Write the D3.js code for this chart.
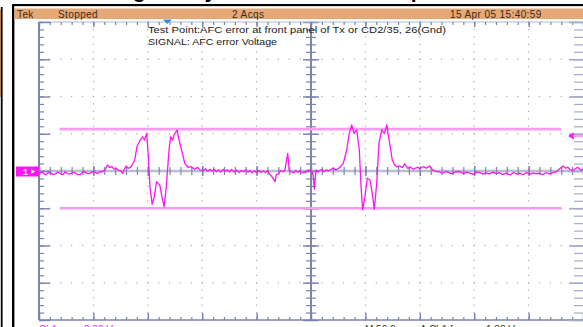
<!DOCTYPE html>
<html>
<head>
<meta charset="utf-8">
<script src="https://cdn.jsdelivr.net/npm/d3@7"></script>
<style>
  body { margin: 0; background: #fff; overflow: hidden; }
  svg { display: block; }
  text { font-family: 'Liberation Sans', Arial, sans-serif; }
</style>
</head>
<body>
<svg id="scope" width="583" height="327"></svg>
<script>
// texts on the screen
const titleText = 'Voltage analysis of AFC error output';
const headerLabels = ['Tek', 'Stopped', '2 Acqs', '15 Apr 05 15:40:59'];
const noteLines = ['Test Point:AFC error at front panel of Tx or CD2/35, 26(Gnd)', 'SIGNAL: AFC error Voltage'];
const footerLabels = ['Ch1', '2.00 V', 'M 50.0\u00b5s', 'A  Ch1  \u0283', '1.88 V'];

// scope settings (50us/div, 2V/div)
const timeDivs = d3.range(0, 501, 50);
const voltDivs = d3.range(-8, 9, 2);
const cursorVolts = [2.25, -2.0];
const cursorSpan = [19, 480];
const triggerLevel = 1.88;
const triggerTime = 118;

// trace: [time us, volts]
const trace = [
  [1, -0.12], [3, -0.05], [6, -0.21], [8, -0.10], [10, -0.09], [13, -0.18], [15, -0.16], [17, -0.06],
  [19, -0.12], [22, -0.20], [24, -0.04], [26, -0.14], [28, -0.16], [31, -0.08], [33, -0.09], [35, -0.19],
  [38, -0.18], [40, -0.07], [42, -0.05], [45, -0.15], [47, -0.12], [49, -0.03], [51, -0.05], [54, -0.13],
  [56, -0.02], [58, -0.06], [61, 0.09], [63, 0.32], [65, 0.18], [67, 0.23], [69, 0.10], [71, 0.14],
  [73, 0.05], [75, 0.02], [77, -0.12], [78, 0.05], [80, 0.27], [82, 0.14], [84, 0.20], [85, 0.27],
  [88, 0.59], [90, 1.30], [93, 1.66], [95, 1.84], [97, 1.66], [99, 2.02], [100.5, 0.77], [102, -0.84],
  [104, -1.79], [106, -1.38], [108, -0.57], [111, -0.75], [113, -1.38], [115, -1.92], [117, -0.84], [119.5, 1.13],
  [121, 1.84], [123, 1.66], [124, 1.93], [127, 2.20], [128, 1.84], [131, 1.13], [134, 0.41], [137, 0.20],
  [140, 0.23], [143, 0.09], [146, 0.20], [148, 0.05], [151, 0.02], [153, 0.12], [155, -0.02], [157, 0.09],
  [159, 0.00], [161, 0.10], [163, -0.04], [165, 0.06], [167, -0.06], [169, 0.09], [171, -0.02], [173, 0.07],
  [175, -0.04], [177, 0.08], [179, -0.05], [182, 0.05], [184, -0.08], [186, 0.03], [188, -0.04], [190, 0.06],
  [192, -0.06], [194, 0.02], [196, -0.10], [198, 0.01], [200, -0.09], [202, 0.03], [204, -0.06], [206, 0.00],
  [208, -0.08], [210, 0.02], [212, -0.16], [214, -0.30], [217, -0.57], [218, -0.20], [220, -0.16], [222, 0.02],
  [224.5, -0.04], [226, 0.05], [228.6, 0.95], [230, 0.02], [232, -0.05], [234, -0.09], [236, 0.03], [238, -0.07],
  [240, 0.02], [242, -0.10], [244.5, -0.09], [247, 0.04], [249, 0.05], [251, -0.06], [252, -0.21], [253, -0.97],
  [254.6, 0.05], [257, -0.03], [260, 0.09], [262, -0.04], [264, 0.06], [266, 0.00], [268, 0.08], [270.5, 0.14],
  [273, 0.05], [276.7, 0.20], [279.7, 0.41], [282.8, 1.13], [285.2, 2.02], [287.4, 2.47], [289.5, 2.02], [292, 2.20],
  [294.4, 1.13], [296, -0.84], [297.5, -2.09], [299.6, -1.38], [301.7, -0.39], [304.2, -0.48], [306.3, -1.20], [308.2, -2.06],
  [310.4, -0.66], [312.5, 1.49], [315, 2.20], [317.4, 2.02], [319.6, 2.47], [322.3, 1.49], [324.7, 0.59], [326.9, 0.32],
  [329, 0.22], [331.5, 0.27], [334, 0.18], [336, 0.38], [339, 0.14], [341, 0.22], [344, 0.09], [346, 0.16],
  [348, 0.20], [350, 0.12], [353, 0.23], [356, 0.15], [359, 0.27], [362, 0.05], [365, -0.02], [368, -0.04],
  [371, -0.12], [374, -0.02], [377, -0.09], [380, -0.15], [383, -0.03], [387, -0.04], [390, -0.14], [393, -0.06],
  [396, -0.12], [399, -0.18], [402, -0.06], [405, -0.07], [408, -0.17], [411, -0.10], [414, -0.16], [417, -0.05],
  [420, -0.14], [423, -0.09], [426, -0.19], [429, -0.11], [433, -0.21], [436, -0.08], [439, -0.15], [442, -0.12],
  [445, -0.20], [448, -0.08], [451, -0.18], [454, -0.10], [457, -0.15], [460, -0.12], [463, -0.20], [466, -0.09],
  [469, -0.16], [472, -0.10], [475.5, -0.04], [478, 0.10], [481.6, 0.27], [484, 0.15], [486, 0.20], [488, 0.08],
  [491, 0.02], [493, 0.12], [495, 0.20], [498, 0.05], [500, 0.09]
];

const GRID = '#7c83ad';
const DOT = '#a3a8c6';
const PINK = '#ff14f5';

const svg = d3.select('#scope');

const x = d3.scaleLinear().domain([0, 500]).range([39, 583]);
const y = d3.scaleLinear().domain([-8, 8]).range([320, 22]);

const minorT = d3.range(0, 51).map(i => i * 10);
const minorV = d3.range(-20, 21).map(i => i * 0.4);

// document title, mostly cut off at the top
const title = svg.append('text')
  .attr('y', -2)
  .attr('font-family', "'Liberation Serif', 'Times New Roman', serif")
  .attr('font-weight', 'bold')
  .attr('font-size', 21)
  .attr('fill', '#000')
  .text(titleText);
let gPos = title.node().getStartPositionOfChar(titleText.indexOf('g')).x;
const pPos = title.node().getStartPositionOfChar(titleText.lastIndexOf('p')).x;
title.attr('font-size', 21 * 278 / (pPos - gPos));
gPos = title.node().getStartPositionOfChar(titleText.indexOf('g')).x;
title.attr('x', 133 - gPos);

// frame of the pasted screenshot
svg.append('rect').attr('x', 0).attr('y', 10).attr('width', 1).attr('height', 87).attr('fill', '#e2a06c');
svg.append('rect').attr('x', 0.8).attr('y', 7).attr('width', 1.8).attr('height', 320).attr('fill', '#000');
svg.append('rect').attr('x', 12).attr('y', 4).attr('width', 2.4).attr('height', 323).attr('fill', '#000');
svg.append('rect').attr('x', 12).attr('y', 4).attr('width', 571).attr('height', 2.4).attr('fill', '#000');
svg.append('rect').attr('x', 14.4).attr('y', 6.4).attr('width', 569).attr('height', 2.1).attr('fill', '#fff');

// status bar
svg.append('rect').attr('x', 14.4).attr('y', 8.5).attr('width', 569).attr('height', 10.5).attr('fill', '#e6a874');
const headerX = [17, 58, 232, 450];
svg.selectAll('.hdr')
  .data(headerLabels)
  .enter().append('text')
  .attr('class', 'hdr')
  .attr('x', (d, i) => headerX[i])
  .attr('y', 17.6)
  .attr('font-size', 10)
  .attr('letter-spacing', 0.4)
  .attr('fill', '#3e2a1c')
  .text(d => d);

// dotted graticule
const innerT = timeDivs.filter(t => t > 0 && t < 500 && t !== 250);
const innerV = voltDivs.filter(v => v > -8 && v < 8 && v !== 0);
const dots = [];
innerT.forEach(t => minorV.forEach(v => dots.push([t, v])));
innerV.forEach(v => minorT.forEach(t => dots.push([t, v])));
svg.append('g').selectAll('rect')
  .data(dots)
  .enter().append('rect')
  .attr('x', d => x(d[0]) - 0.6)
  .attr('y', d => y(d[1]) - 0.6)
  .attr('width', 1.2)
  .attr('height', 1.2)
  .attr('fill', DOT);

function tickAxis(axis, tx, ty, values, size, width) {
  const g = svg.append('g')
    .attr('transform', 'translate(' + tx + ',' + ty + ')')
    .call(axis.tickValues(values).tickSize(size).tickSizeOuter(0).tickFormat(''));
  g.select('.domain').remove();
  g.selectAll('line').attr('stroke', GRID).attr('stroke-width', width || 1);
  return g;
}

// centre horizontal axis
svg.append('line')
  .attr('x1', x(0)).attr('x2', x(500))
  .attr('y1', y(0)).attr('y2', y(0))
  .attr('stroke', '#b9bdd3').attr('stroke-width', 2.5);
tickAxis(d3.axisBottom(x), 0, y(0) - 4, minorT, 8, 1.2);
tickAxis(d3.axisBottom(x), 0, y(0) - 5, timeDivs, 10, 1.4);

// centre vertical axis
svg.append('line')
  .attr('x1', x(250)).attr('x2', x(250))
  .attr('y1', y(8)).attr('y2', y(-8))
  .attr('stroke', GRID).attr('stroke-width', 2);
tickAxis(d3.axisRight(y), x(250) - 5, 0, minorV, 10, 1.2);
tickAxis(d3.axisRight(y), x(250) - 8, 0, voltDivs, 16, 1.4);

// border lines and ticks
svg.append('line').attr('x1', x(0)).attr('x2', x(0)).attr('y1', y(8)).attr('y2', y(-8))
  .attr('stroke', GRID).attr('stroke-width', 2);
svg.append('line').attr('x1', x(0)).attr('x2', x(500)).attr('y1', y(-8)).attr('y2', y(-8))
  .attr('stroke', GRID).attr('stroke-width', 1.6);
svg.append('line').attr('x1', x(0)).attr('x2', x(500)).attr('y1', y(8)).attr('y2', y(8))
  .attr('stroke', '#b3b7d0').attr('stroke-width', 1);
tickAxis(d3.axisRight(y), x(0), 0, minorV, 5, 1.2);
tickAxis(d3.axisRight(y), x(0), 0, voltDivs, 11, 1.4);
tickAxis(d3.axisTop(x), 0, y(-8), minorT, 3, 1.2);
tickAxis(d3.axisTop(x), 0, y(-8), timeDivs, 7, 1.4);
tickAxis(d3.axisBottom(x), 0, y(8), minorT, 3, 1.2);
tickAxis(d3.axisBottom(x), 0, y(8), timeDivs, 5, 1.4);
tickAxis(d3.axisLeft(y), x(500), 0, minorV, 9, 1.2).selectAll('line').attr('stroke', '#a6aac4');
tickAxis(d3.axisLeft(y), x(500), 0, voltDivs, 14, 1.6).selectAll('line').attr('stroke', '#a6aac4');

// trigger position marker
const tx = x(triggerTime);
svg.append('path')
  .attr('d', 'M' + (tx - 4.5) + ',19.5L' + (tx + 4.5) + ',19.5L' + tx + ',24Z')
  .attr('fill', '#2f8be6');

// annotation text
svg.selectAll('.note')
  .data(noteLines)
  .enter().append('text')
  .attr('class', 'note')
  .attr('x', 148)
  .attr('y', (d, i) => 33 + i * 12)
  .attr('font-size', 9.4)
  .attr('fill', '#1a1a1a')
  .attr('textLength', (d, i) => i === 0 ? 298 : 129)
  .attr('lengthAdjust', 'spacingAndGlyphs')
  .text(d => d);

// cursors
svg.selectAll('.cursor')
  .data(cursorVolts)
  .enter().append('line')
  .attr('class', 'cursor')
  .attr('x1', x(cursorSpan[0])).attr('x2', x(cursorSpan[1]))
  .attr('y1', d => y(d)).attr('y2', d => y(d))
  .attr('stroke', '#f79cf0').attr('stroke-width', 2.6);

// waveform
const line = d3.line().x(d => x(d[0])).y(d => y(d[1]));
svg.append('path')
  .datum(trace)
  .attr('fill', 'none')
  .attr('stroke', PINK)
  .attr('stroke-width', 1.3)
  .attr('stroke-linejoin', 'round')
  .attr('d', line);

// channel 1 ground marker
const gy = y(0);
svg.append('rect').attr('x', 16).attr('y', gy - 4.5).attr('width', 23).attr('height', 10).attr('fill', PINK);
svg.append('text').attr('x', 23).attr('y', gy + 3.8).attr('font-size', 9).attr('font-weight', 'bold')
  .attr('fill', '#fff').text('1');
svg.append('path')
  .attr('d', 'M31,' + (gy - 2) + 'L35,' + (gy + 0.5) + 'L31,' + (gy + 3) + 'Z')
  .attr('fill', '#fff');

// trigger level marker
const ty = y(triggerLevel);
svg.append('path')
  .attr('d', 'M568,' + ty + 'L574,' + (ty - 3.5) + 'L574,' + (ty + 3.5) + 'Z')
  .attr('fill', PINK);
svg.append('rect').attr('x', 573).attr('y', ty - 1.2).attr('width', 10).attr('height', 2.4).attr('fill', '#f79cf0');

// readout line, cut off at the bottom
const footerX = [39, 84, 365, 420, 486];
svg.selectAll('.ftr')
  .data(footerLabels)
  .enter().append('text')
  .attr('class', 'ftr')
  .attr('x', (d, i) => footerX[i])
  .attr('y', 333)
  .attr('font-size', 10)
  .attr('fill', (d, i) => i < 2 ? PINK : '#333')
  .text(d => d);
</script>
</body>
</html>
